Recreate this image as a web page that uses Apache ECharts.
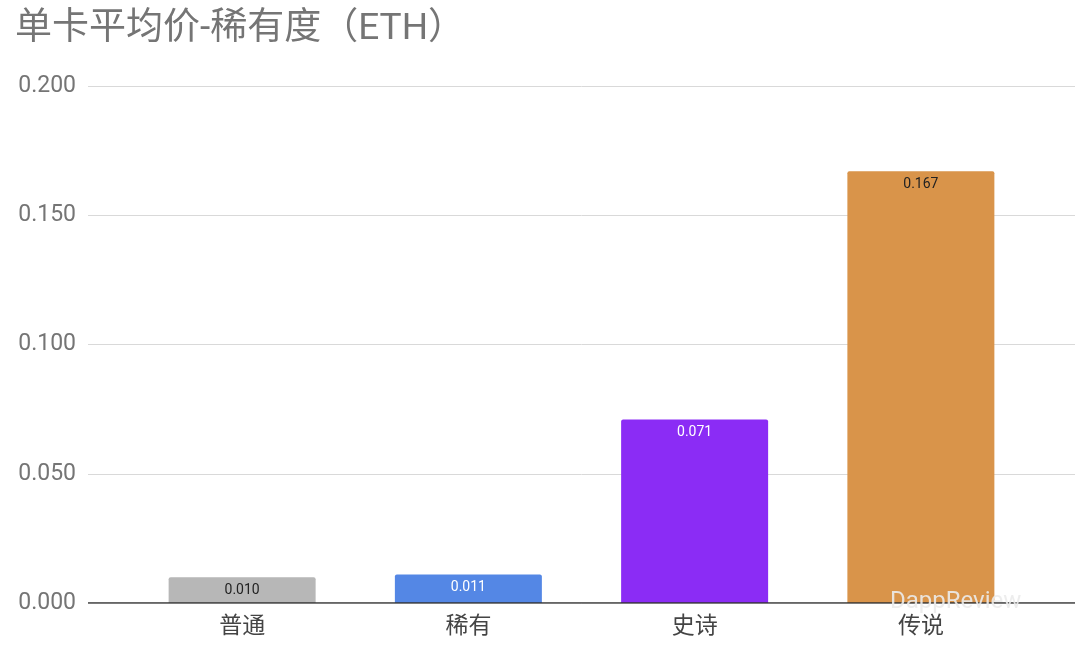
<!DOCTYPE html>
<html><head><meta charset="utf-8">
<script src="https://cdn.jsdelivr.net/npm/echarts@6/dist/echarts.min.js"></script>
<style>html,body{margin:0;background:#fff}#c{width:1080px;height:655px}</style>
</head><body><div id="c"></div>
<script>
const categories = ['普通','稀有','史诗','传说'];
const values = [0.010, 0.011, 0.071, 0.167];
const colors = ['#b7b7b7','#5487e5','#8b2cf5','#d9944a'];
const labelColors = ['#222','#fff','#fff','#222'];
const yTicks = [0, 0.05, 0.1, 0.15, 0.2];
const chart = echarts.init(document.getElementById('c'));
const F = "Roboto, 'Noto Sans CJK SC', sans-serif";
chart.setOption({
  animation:false,
  title:{text:'单卡平均价-稀有度（ETH）',left:10,top:6,textStyle:{fontSize:37,fontWeight:'normal',color:'#757575',fontFamily:F}},
  grid:[{left:88,right:5,top:86,bottom:52},{left:129,right:46,top:86,bottom:52}],
  xAxis:[
    {gridIndex:0,type:'value',min:0,max:1,show:false},
    {gridIndex:1,type:'category',data:categories,axisTick:{show:false},
     axisLine:{show:false},
     axisLabel:{fontSize:23,color:'#444',margin:13,fontFamily:F}}
  ],
  yAxis:[
    {gridIndex:0,type:'value',min:0,max:0.2,interval:0.05,
     axisLabel:{fontSize:23,color:'#757575',margin:12,fontFamily:F,formatter:v=>v.toFixed(3)},
     axisLine:{show:false},axisTick:{show:false},
     splitLine:{lineStyle:{color:'#d9d9d9',width:1}}},
    {gridIndex:1,type:'value',min:0,max:0.2,show:false}
  ],
  series:[
    {type:'line',xAxisIndex:0,yAxisIndex:0,data:[[0,0],[1,0]],symbol:'none',lineStyle:{color:'#333',width:1.5},silent:true},
    {type:'bar',xAxisIndex:1,yAxisIndex:1,barWidth:147,
     data:values.map((v,i)=>({value:v,itemStyle:{color:colors[i],borderRadius:[2,2,0,0]},
       label:{color:labelColors[i]}})),
     label:{show:true,position:'insideTop',distance:6,fontSize:14,fontFamily:F,formatter:p=>p.value.toFixed(3)}}
  ],
  graphic:[{type:'text',left:890,top:590,z:100,style:{text:'DappReview',fontSize:24,fill:'rgba(235,235,235,0.9)',fontFamily:F}}]
});
</script></body></html>
